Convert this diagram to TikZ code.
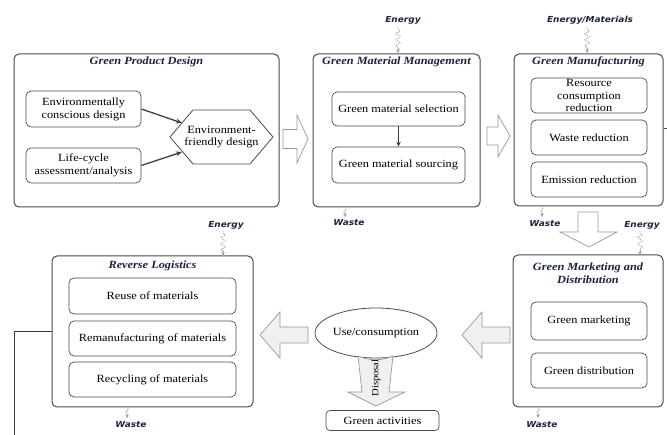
\documentclass[tikz,border=0pt]{standalone}
\usepackage{fontspec}
\setmainfont{Liberation Serif}[FakeStretch=1.12]
\newfontfamily\lblfont{DejaVu Sans}[FakeStretch=1.08]
\usetikzlibrary{arrows.meta,decorations.pathmorphing,shapes.geometric}
\definecolor{navy}{HTML}{1C2340}
\definecolor{edge}{HTML}{4A4A4A}
\tikzset{
  outerbox/.style={draw=edge, line width=1pt, rounded corners=5pt, minimum width=#1, inner sep=0pt},
  innerbox/.style={draw=edge, line width=0.7pt, rounded corners=5pt, align=center, inner sep=0pt,
    font=\fontsize{11}{12.8}\selectfont},
  ttl/.style={font=\fontsize{11}{12.8}\selectfont\bfseries\itshape, text=navy, align=center, inner sep=0pt},
  lbl/.style={font=\lblfont\fontsize{8.3}{10}\selectfont\bfseries\itshape, text=navy, inner sep=0pt},
  wavy/.style={draw=gray!70, densely dotted, line width=0.9pt, decorate,
    decoration={snake, amplitude=2.2pt, segment length=6pt, pre length=2pt, post length=4pt}},
  wavys/.style={draw=gray!70, densely dotted, line width=0.9pt, decorate,
    decoration={snake, amplitude=1.5pt, segment length=5pt, pre length=1pt, post length=3pt}},
  wavytip/.style={draw=gray!70, line width=0.7pt, -{Stealth[length=3.5pt,width=3.5pt]}},
  conn/.style={draw=edge!85!black, line width=1.3pt, -{Stealth[length=6pt,width=5pt]}},
  blockarr/.style={draw=gray!80, line width=0.7pt, fill=white},
  greyarr/.style={draw=gray!80, line width=0.7pt, fill=gray!12},
}
\begin{document}
\begin{tikzpicture}[x=1pt,y=-1pt]
\useasboundingbox (0,0) rectangle (667,435);
\fill[white] (0,0) rectangle (667,435);

% ---------- outer boxes ----------
\node[outerbox=265pt, minimum height=153pt] (gpd) at (146.5,130.5) {};
\node[outerbox=167pt, minimum height=153pt] (gmm) at (396.5,130.5) {};
\node[outerbox=149pt, minimum height=152pt] (gman) at (588.5,130) {};
\node[outerbox=201pt, minimum height=151pt] (rl) at (152.5,331.5) {};
\node[outerbox=150pt, minimum height=152pt] (gmd) at (588,331) {};

% ---------- titles ----------
\node[ttl] (t1) at (146.5,62) {Green Product Design};
\node[ttl] (t2) at (396.5,62) {Green Material Management};
\node[ttl] (t3) at (588.5,62) {Green Manufacturing};
\node[ttl] (t4) at (152.5,266) {Reverse Logistics};
\node[ttl] (t5) at (588,273.5) {Green Marketing and\\Distribution};

% ---------- Green Product Design ----------
\node[innerbox, minimum width=115pt, minimum height=36pt] (ecd) at (83.5,109) {Environmentally\\conscious design};
\node[innerbox, minimum width=115pt, minimum height=35pt] (lca) at (83.5,165.5) {Life-cycle\\assessment/analysis};
\node[align=center, inner sep=0pt, font=\fontsize{11}{12.8}\selectfont] (efd) at (221.5,137) {Environment-\\friendly design};
\draw[edge, line width=0.8pt] (170,137) -- (193,110) -- (250,110) -- (273,137) -- (250,164) -- (193,164) -- cycle;
\coordinate (h1) at (182,123);
\coordinate (h2) at (182,152);
\draw[conn] (ecd.east) -- (h1);
\draw[conn] (lca.east) -- (h2);

% ---------- Green Material Management ----------
\node[innerbox, minimum width=133pt, minimum height=34pt] (gsel) at (398.5,109) {Green material selection};
\node[innerbox, minimum width=133pt, minimum height=36pt] (gsrc) at (398.5,165) {Green material sourcing};
\draw[conn, line width=1pt, -{Stealth[length=5pt,width=4.5pt]}] (gsel.south) -- (gsrc.north);

% ---------- Green Manufacturing ----------
\node[innerbox, minimum width=116pt, minimum height=35pt] (rcr) at (589,95.5) {Resource\\consumption\\reduction};
\node[innerbox, minimum width=116pt, minimum height=35pt] (wr) at (589,137.5) {Waste reduction};
\node[innerbox, minimum width=116pt, minimum height=35pt] (er) at (589,179.5) {Emission reduction};
\coordinate (gmanout) at (667,128);
\draw[edge, line width=0.8pt] (gman.east |- gmanout) -- (gmanout);

% ---------- Green Marketing and Distribution ----------
\node[innerbox, minimum width=116pt, minimum height=38pt] (gmk) at (589,321) {Green marketing};
\node[innerbox, minimum width=116pt, minimum height=35pt] (gdi) at (589,370.5) {Green distribution};

% ---------- Reverse Logistics ----------
\node[innerbox, minimum width=167pt, minimum height=36pt] (reu) at (152.5,296) {Reuse of materials};
\node[innerbox, minimum width=167pt, minimum height=35pt] (rem) at (152.5,338.5) {Remanufacturing of materials};
\node[innerbox, minimum width=167pt, minimum height=35pt] (rec) at (152.5,379.5) {Recycling of materials};
\coordinate (rl1) at (14,332);
\coordinate (rl2) at (14,436);
\draw[edge!80!black, line width=1pt] (rl.west |- rl1) -- (rl1) -- (rl2);

% ---------- Use / consumption ----------
\node[draw=edge, line width=0.8pt, ellipse, minimum width=122pt, minimum height=50pt, inner sep=0pt,
  font=\fontsize{11}{12.8}\selectfont] (use) at (376,333) {Use/consumption};
\node[innerbox, minimum width=113pt, minimum height=20pt, rounded corners=4pt] (gact) at (382.5,420.5) {Green activities};

% ---------- block arrows ----------
\draw[blockarr] (283,129.5) -- (297,129.5) -- (297,115) -- (308,139) -- (297,163) -- (297,148.5) -- (283,148.5) -- cycle;
\draw[blockarr] (487,127) -- (498,127) -- (498,115) -- (510,136) -- (498,157) -- (498,145) -- (487,145) -- cycle;
\draw[blockarr] (578,212) -- (598,212) -- (598,232) -- (617,232) -- (589,247) -- (560,232) -- (578,232) -- cycle;
\draw[greyarr] (510,327) -- (482,327) -- (482,312) -- (462,335) -- (482,358) -- (482,343) -- (510,343) -- cycle;
\draw[greyarr] (308,327) -- (280,327) -- (280,312) -- (260,335) -- (280,358) -- (280,343) -- (308,343) -- cycle;
\draw[greyarr] (358,356) .. controls (370,361) and (381,361) .. (393,356) -- (389,392) -- (405,392) -- (376,406) -- (348,392) -- (362,392) -- cycle;
\node[rotate=90, inner sep=0pt, font=\fontsize{9.5}{11}\selectfont] (disp) at (376,378) {Disposal};

% ---------- energy / waste labels ----------
\node[lbl] (e1) at (403,20) {Energy};
\coordinate (e1t) at (398,53);
\draw[wavy] (398,27) -- (e1t);
\draw[wavytip] (398,48) -- (e1t);

\node[lbl] (e2) at (590,20) {Energy/Materials};
\coordinate (e2t) at (587,53);
\draw[wavy] (587,27) -- (e2t);
\draw[wavytip] (587,48) -- (e2t);

\node[lbl] (e3) at (642,225) {Energy};
\coordinate (e3t) at (640,255);
\draw[wavy] (640,231) -- (e3t);
\draw[wavytip] (640,250) -- (e3t);

\node[lbl] (e4) at (226,225) {Energy};
\coordinate (e4t) at (223,256);
\draw[wavy] (223,231) -- (e4t);
\draw[wavytip] (223,251) -- (e4t);

\node[lbl] (w1) at (349,223) {Waste};
\coordinate (w1t) at (345,217);
\draw[wavys] (345,207) -- (w1t);
\draw[wavytip] (345,213) -- (w1t);

\node[lbl] (w2) at (545,224) {Waste};
\coordinate (w2t) at (542,217);
\draw[wavys] (542,206) -- (w2t);
\draw[wavytip] (542,213) -- (w2t);

\node[lbl] (w3) at (131,425) {Waste};
\coordinate (w3t) at (127,418);
\draw[wavys] (127,407) -- (w3t);
\draw[wavytip] (127,414) -- (w3t);

\node[lbl] (w4) at (542,425) {Waste};
\coordinate (w4t) at (538,418);
\draw[wavys] (538,407) -- (w4t);
\draw[wavytip] (538,414) -- (w4t);
\end{tikzpicture}
\end{document}
